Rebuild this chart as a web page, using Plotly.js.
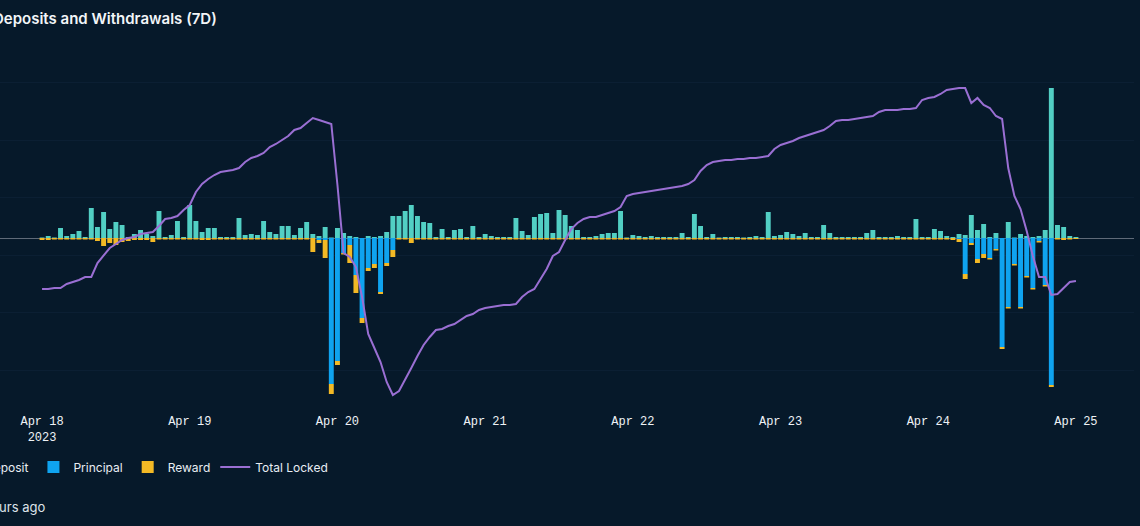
<!DOCTYPE html>
<html>
<head>
<meta charset="utf-8">
<script src="https://cdn.plot.ly/plotly-3.0.1.min.js"></script>
<style>
html,body{margin:0;padding:0;background:#06192a;}
#chart{width:1140px;height:526px;}
</style>
</head>
<body>
<div id="chart"></div>
<script>
// Hourly buckets, 2023-04-18 00:00 .. 2023-04-25 00:00 (169 hours)
var startTime = "2023-04-18T00:00:00";
var hourCount = 169;

// Deposit (k, positive)
var deposit = [
0.05,0.2,0.05,1.0,0.2,0.4,0.7,0.1,3.0,1.1,2.6,0.9,1.6,1.3,0.1,0.4,0.8,0.4,0.2,2.7,
0.1,0.3,1.7,0.1,3.3,1.7,0.6,1.0,1.0,0.1,0.1,0.1,2.0,0.3,0.4,0.3,1.7,0.6,0.4,1.2,
1.2,0.3,1.0,1.6,0.4,0.2,1.1,0.05,1.0,0.5,0.2,0.1,0.0,0.2,0.1,0.2,0.6,2.2,2.2,2.7,
3.3,2.2,1.6,1.5,0.1,0.9,0.1,0.8,0.9,0.1,1.2,0.1,0.4,0.2,0.1,0.1,0.1,2.0,0.7,0.3,
2.1,2.4,2.5,0.5,2.8,2.3,1.2,0.8,0.1,0.1,0.2,0.4,0.5,0.5,2.7,0.05,0.3,0.2,0.1,0.2,
0.1,0.1,0.1,0.1,0.5,0.1,2.4,1.2,0.1,0.4,0.05,0.1,0.1,0.1,0.05,0.1,0.2,0.1,2.6,0.2,
0.3,0.6,0.4,0.2,0.5,0.1,0.1,1.3,0.5,0.1,0.1,0.1,0.1,0.1,0.5,0.8,0.1,0.1,0.1,0.2,
0.1,0.1,1.9,0.1,0.1,0.9,0.7,0.2,0.1,0.4,0.3,2.3,0.8,1.4,0.1,0.5,0.0,1.6,0.05,0.4,
0.2,0.1,0.2,0.8,15.0,1.3,1.1,0.2,0.1
];

// Principal (k, withdrawals negative)
var principal = [
0,0,0,0,0,0,0,0,0,0,0,0,0,0,0,0,0,0,0,0,
0,0,0,0,0,0,0,0,0,0,0,0,0,0,0,0,0,0,0,0,
0,0,0,0,0,-0.2,-0.2,-14.6,-12.3,-1.5,-0.7,-3.7,-8.0,-3.0,-2.6,-5.4,-2.5,-1.2,0,0,
0,0,0,0,0,0,0,0,0,0,0,0,0,0,0,0,0,0,0,0,
0,0,0,0,0,0,0,0,0,0,0,0,0,0,0,0,0,0,0,0,
0,0,0,0,0,0,0,0,0,0,0,0,0,0,0,0,0,0,0,0,
0,0,0,0,0,0,0,0,0,0,0,0,0,0,0,0,0,0,0,0,
0,0,0,0,0,0,0,0,0,-0.1,-3.6,-0.5,-2.1,-1.6,-2.0,-1.1,-10.9,-6.9,-2.6,-6.9,
-3.8,-5.0,-0.3,-4.7,-14.7,0,0,0,0
];

// Reward (k)
var reward = [
-0.2,-0.2,-0.15,-0.15,-0.15,-0.15,-0.15,-0.15,-0.15,-0.3,-0.8,-0.5,-0.7,-0.4,-0.3,-0.2,-0.2,-0.2,-0.4,-0.15,
-0.15,-0.15,-0.15,-0.15,-0.15,-0.15,-0.2,-0.2,-0.15,-0.15,-0.15,-0.15,-0.15,-0.15,-0.15,-0.15,-0.15,-0.15,-0.15,-0.15,
-0.15,-0.15,-0.15,-0.15,-1.4,-0.3,-1.8,-1.0,-0.4,-0.15,-1.8,-1.8,-0.5,-0.3,-0.4,-0.2,-0.3,-0.7,-0.15,-0.15,
-0.5,-0.15,-0.15,-0.15,-0.15,-0.15,-0.15,-0.15,-0.15,-0.15,-0.15,-0.15,-0.15,-0.15,-0.15,-0.15,-0.15,-0.15,-0.15,-0.15,
-0.15,-0.15,-0.15,-0.15,-0.15,-0.15,-0.15,-0.15,-0.15,-0.15,-0.15,-0.15,-0.15,-0.15,-0.15,-0.15,-0.15,-0.15,-0.15,-0.15,
-0.15,-0.15,-0.15,-0.15,-0.15,-0.15,-0.15,-0.15,-0.15,-0.15,-0.15,-0.15,-0.15,-0.15,-0.15,-0.15,-0.15,-0.15,-0.15,-0.15,
-0.15,-0.15,-0.15,-0.15,-0.15,-0.15,-0.15,-0.15,-0.15,-0.15,-0.15,-0.15,-0.15,-0.15,-0.15,-0.15,-0.15,-0.15,-0.15,-0.15,
-0.15,-0.15,-0.15,-0.15,-0.15,-0.15,-0.15,-0.15,-0.2,-0.3,-0.5,-0.2,-0.4,-0.4,-0.15,-0.15,-0.2,-0.15,-0.15,-0.15,
-0.15,-0.15,-0.15,-0.15,-0.2,-0.15,-0.2,-0.15,-0.1
];

// Total Locked (scaled units)
var totalLocked = [
1222,1222,1224,1224,1232,1236,1240,1246,1246,1274,1288,1304,1312,1320,1324,1326,1332,1334,1336,1348,
1362,1364,1368,1380,1390,1416,1432,1442,1450,1456,1458,1460,1464,1476,1484,1488,1494,1506,1512,1520,
1528,1540,1544,1554,1564,1560,1556,1552,1430,1294,1286,1266,1206,1132,1104,1076,1036,1010,1018,1040,
1064,1088,1110,1126,1140,1142,1148,1152,1160,1168,1172,1180,1184,1186,1188,1190,1190,1192,1206,1216,
1222,1242,1262,1288,1296,1320,1342,1354,1362,1366,1366,1370,1374,1378,1386,1408,1412,1414,1416,1418,
1420,1422,1424,1426,1428,1432,1440,1458,1470,1476,1478,1480,1480,1482,1482,1484,1484,1486,1488,1502,
1510,1514,1518,1524,1528,1532,1536,1540,1548,1558,1560,1560,1562,1564,1566,1568,1576,1580,1580,1580,
1582,1582,1584,1600,1604,1606,1612,1620,1622,1624,1624,1594,1604,1590,1584,1568,1562,1464,1408,1382,
1338,1288,1246,1246,1210,1212,1224,1236,1238
];

var seriesNames = ["Deposit","Principal","Reward","Total Locked"];
var chartTitle = "Deposits and Withdrawals (7D)";
var updatedText = "2 hours ago";

var times = [];
var t0 = new Date(startTime + "Z").getTime();
for (var i = 0; i < hourCount; i++) {
  var d = new Date(t0 + i * 3600000);
  times.push(d.toISOString().slice(0,19).replace("T"," "));
}

var traces = [
  {type:"bar", name:seriesNames[0], x:times, y:deposit, marker:{color:"#52cfc4"}, hoverinfo:"skip"},
  {type:"bar", name:seriesNames[1], x:times, y:principal, marker:{color:"#0fa3ef"}, hoverinfo:"skip"},
  {type:"bar", name:seriesNames[2], x:times, y:reward, marker:{color:"#f3b925"}, hoverinfo:"skip"},
  {type:"scatter", mode:"lines", name:seriesNames[3], x:times, y:totalLocked, yaxis:"y2",
   line:{color:"#9a6fd3", width:2}, hoverinfo:"skip"}
];

var layout = {
  width:1140, height:526,
  paper_bgcolor:"#06192a", plot_bgcolor:"#06192a",
  margin:{l:0, r:6, t:60, b:126, autoexpand:false},
  barmode:"relative", bargap:0.2,
  showlegend:true,
  font:{family:"Inter, sans-serif", color:"#e8edf3", size:12},
  xaxis:{
    type:"date",
    range:["2023-04-17 17:10","2023-04-25 09:26"],
    tick0:"2023-04-18", dtick:86400000,
    showgrid:false, zeroline:false, showline:false,
    ticks:"outside", ticklen:10, tickcolor:"rgba(0,0,0,0)",
    tickfont:{family:"Liberation Mono, monospace", size:12, color:"#eef2f6"}
  },
  yaxis:{
    range:[-16.2,17.8], showgrid:false, showticklabels:false,
    zeroline:true, zerolinecolor:"#5f6a78", zerolinewidth:1, fixedrange:true
  },
  yaxis2:{
    overlaying:"y", side:"right", range:[1000,1680],
    showgrid:true, gridcolor:"#0b1f33", gridwidth:1,
    tick0:1060, dtick:115, showticklabels:false, zeroline:false
  },
  legend:{
    orientation:"h", x:-0.0485, xanchor:"left", y:-0.197, yanchor:"middle",
    font:{family:"Inter, sans-serif", size:12, color:"#e8edf3"},
    bgcolor:"rgba(0,0,0,0)"
  },
  annotations:[
    {text:chartTitle, xref:"paper", yref:"paper", x:219/1134, y:1.1235, xanchor:"right", yanchor:"middle",
     showarrow:false, font:{family:"Inter, sans-serif", size:15, weight:600, color:"#f2f5f8"}},
    {text:updatedText, xref:"paper", yref:"paper", x:47/1134, y:-0.3147, xanchor:"right", yanchor:"middle",
     showarrow:false, font:{family:"Inter, sans-serif", size:13, color:"#dfe4ea"}}
  ]
};

Plotly.newPlot("chart", traces, layout, {displayModeBar:false, staticPlot:true});
</script>
</body>
</html>
